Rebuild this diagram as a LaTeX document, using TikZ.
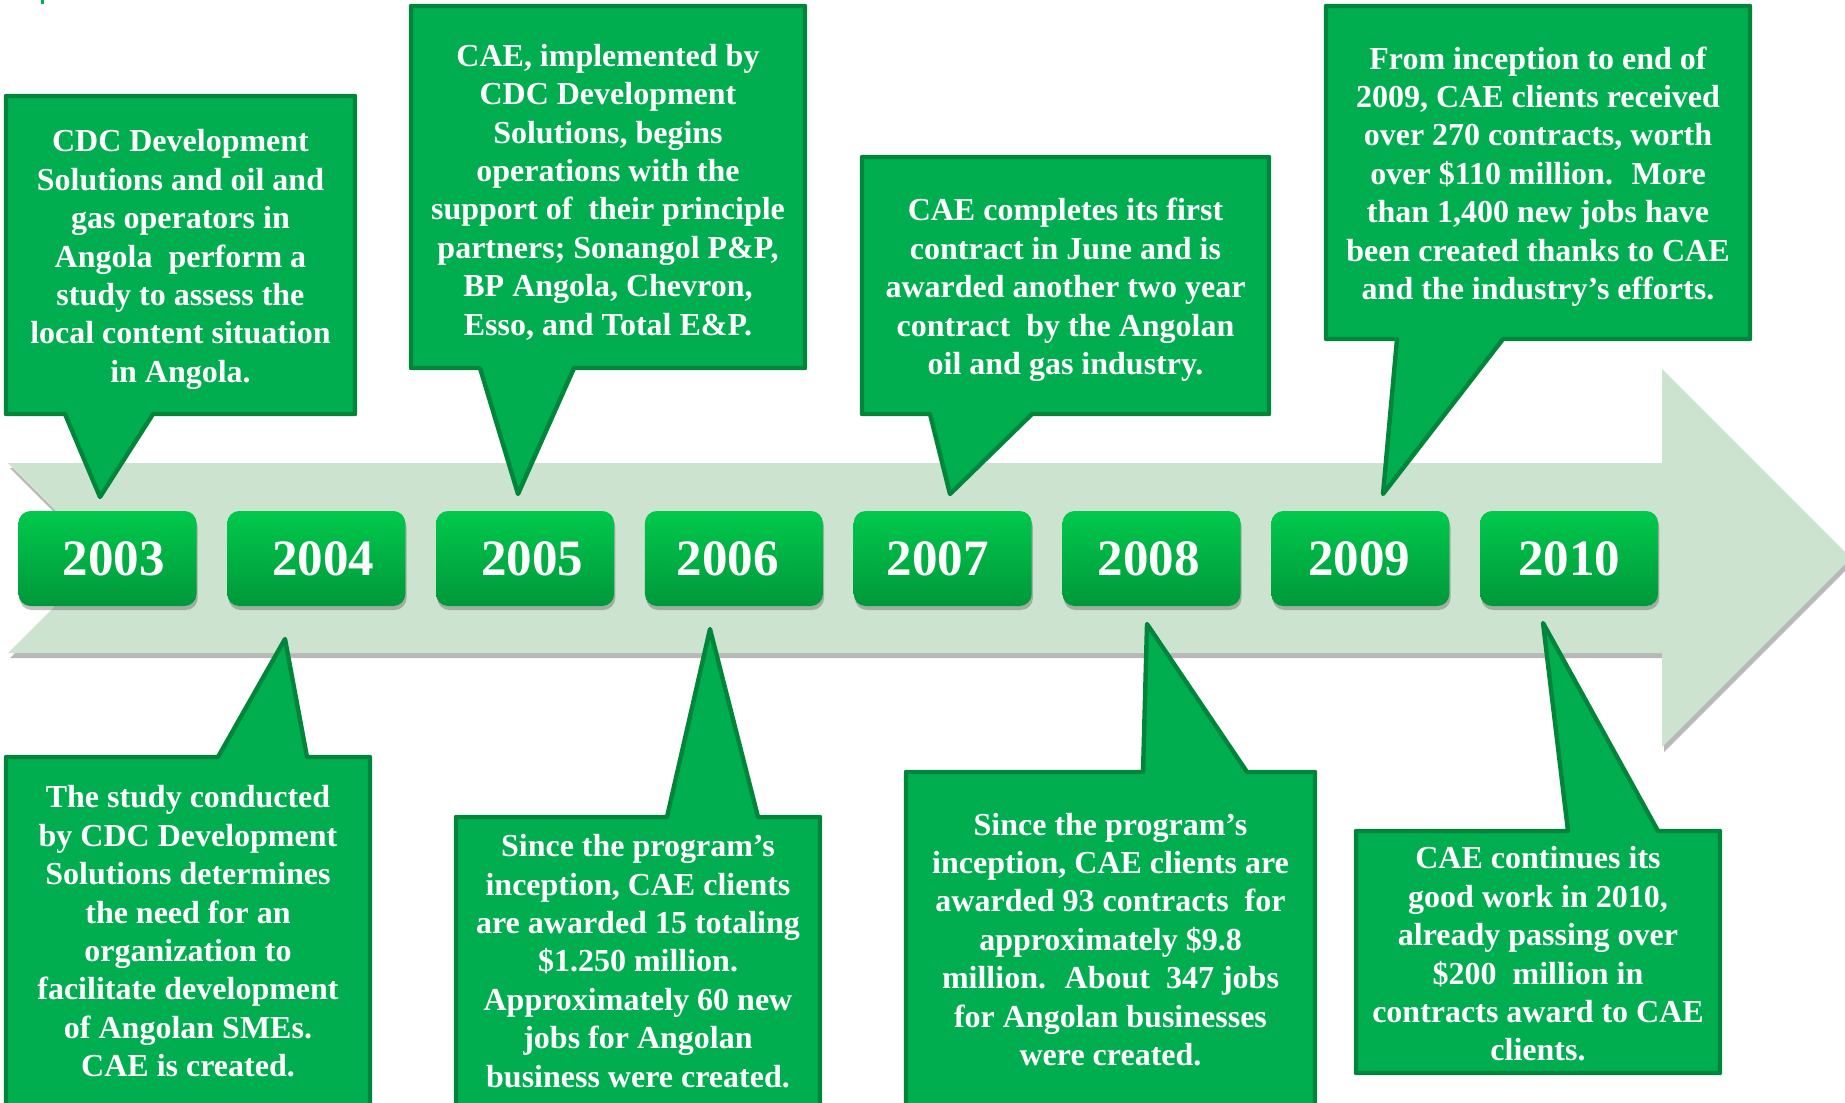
\documentclass[tikz,border=0pt]{standalone}
\usepackage{fontspec}
\setmainfont{Liberation Serif}
\usetikzlibrary{shadows}
\definecolor{bandc}{RGB}{204,228,207}
\definecolor{cfill}{RGB}{0,173,79}
\definecolor{cline}{RGB}{0,133,58}
\definecolor{ytop}{RGB}{0,201,76}
\definecolor{ybot}{RGB}{0,152,58}
\newcommand{\calfont}{\fontsize{16pt}{19.2pt}\selectfont\bfseries}
\newcommand{\yrfont}{\fontsize{25.5pt}{30pt}\selectfont\bfseries}
\tikzset{
  callout/.style={fill=cfill, draw=cline, line width=2.2pt, line join=round},
  ctext/.style={text=white, font=\calfont, align=center, inner sep=0pt},
  yearbox/.style={rounded corners=6pt, top color=ytop, bottom color=ybot, draw=none,
    minimum width=89pt, minimum height=47.5pt, inner sep=0pt,
    drop shadow={shadow xshift=0.6pt, shadow yshift=-2pt, opacity=0.35, fill=black!70}},
  yeartext/.style={text=white, font=\yrfont, inner sep=0pt},
}
\begin{document}
\begin{tikzpicture}[x=0.5pt,y=-0.5pt]
\useasboundingbox (0,0) rectangle (1845,1102);
\clip (0,0) rectangle (1845,1102);
% small mark top-left
\fill[cfill] (41,0) rectangle (44,4);
% band arrow with shadow
\fill[black, opacity=0.28, shift={(2,5)}] (8,463) -- (1662,463) -- (1662,369) -- (1851,558) -- (1662,747) -- (1662,653) -- (8,653) -- (103,558) -- cycle;
\fill[bandc] (8,463) -- (1662,463) -- (1662,369) -- (1851,558) -- (1662,747) -- (1662,653) -- (8,653) -- (103,558) -- cycle;

% ---------- callouts (top) ----------
% 2003
\coordinate (p2003) at (100,497);
\draw[callout] (6,96) -- (355,96) -- (355,414) -- (153,414) -- (p2003) -- (65,414) -- (6,414) -- cycle;
\node[ctext] (t2003) at (180.5,259.5) {CDC Development\\Solutions and oil and\\gas operators in\\Angola~ perform a\\study to assess the\\local content situation\\in Angola.};
% 2005
\coordinate (p2005) at (518,494);
\draw[callout] (411,6) -- (805,6) -- (805,368) -- (574,368) -- (p2005) -- (480,368) -- (411,368) -- cycle;
\node[ctext] (t2005) at (608,192) {CAE, implemented by\\CDC Development\\Solutions, begins\\operations with the\\support of~ their principle\\partners; Sonangol P\&P,\\BP Angola, Chevron,\\Esso, and Total E\&P.};
% 2007
\coordinate (p2007) at (950,494);
\draw[callout] (862,157) -- (1269,157) -- (1269,414) -- (1032,414) -- (p2007) -- (930,414) -- (862,414) -- cycle;
\node[ctext] (t2007) at (1065.5,290) {CAE completes its first\\contract in June and is\\awarded another two year\\contract~ by the Angolan\\oil and gas industry.};
% 2009
\coordinate (p2009) at (1383,494);
\draw[callout] (1326,6) -- (1750,6) -- (1750,339) -- (1503,339) -- (p2009) -- (1397,339) -- (1326,339) -- cycle;
\node[ctext] (t2009) at (1538,176.5) {From inception to end of\\2009, CAE clients received\\over 270 contracts, worth\\over \$110 million.~ More\\than 1,400 new jobs have\\been created thanks to CAE\\and the industry’s efforts.};

% ---------- callouts (bottom) ----------
% 2004
\coordinate (p2004) at (285,639);
\draw[callout] (6,757) -- (218,757) -- (p2004) -- (307,757) -- (370,757) -- (370,1112) -- (6,1112) -- cycle;
\node[ctext] (t2004) at (188,931.5) {The study conducted\\by CDC Development\\Solutions determines\\the need for an\\organization to\\facilitate development\\of Angolan SMEs.\\CAE is created.};
% 2006
\coordinate (p2006) at (710,629);
\draw[callout] (456,817) -- (667,817) -- (p2006) -- (758,817) -- (820,817) -- (820,1112) -- (456,1112) -- cycle;
\node[ctext] (t2006) at (638,961) {Since the program’s\\inception, CAE clients\\are awarded 15 totaling\\\$1.250 million.\\Approximately 60 new\\jobs for Angolan\\business were created.};
% 2008
\coordinate (p2008) at (1147,624);
\draw[callout] (906,772) -- (1143,772) -- (p2008) -- (1247,772) -- (1315,772) -- (1315,1112) -- (906,1112) -- cycle;
\node[ctext] (t2008) at (1110.5,939.5) {Since the program’s\\inception, CAE clients are\\awarded 93 contracts~ for\\approximately \$9.8\\million.~ About~ 347 jobs\\for Angolan businesses\\were created.};
% 2010
\coordinate (p2010) at (1543,623);
\draw[callout] (1356,831) -- (1568,831) -- (p2010) -- (1658,831) -- (1720,831) -- (1720,1073) -- (1356,1073) -- cycle;
\node[ctext] (t2010) at (1538,954) {CAE continues its\\good work in 2010,\\already passing over\\\$200~ million in\\contracts award to CAE\\clients.};

% ---------- year buttons ----------
\node[yearbox] (b2003) at (107.5,558.5) {};
\node[yearbox] (b2004) at (316.3,558.5) {};
\node[yearbox] (b2005) at (525.1,558.5) {};
\node[yearbox] (b2006) at (733.9,558.5) {};
\node[yearbox] (b2007) at (942.7,558.5) {};
\node[yearbox] (b2008) at (1151.5,558.5) {};
\node[yearbox] (b2009) at (1360.3,558.5) {};
\node[yearbox] (b2010) at (1569.1,558.5) {};
\node[yeartext] (y2003) at ([xshift=3pt]b2003.center) {2003};
\node[yeartext] (y2004) at ([xshift=3.5pt]b2004.center) {2004};
\node[yeartext] (y2005) at ([xshift=3.5pt]b2005.center) {2005};
\node[yeartext] (y2006) at ([xshift=-3pt]b2006.center) {2006};
\node[yeartext] (y2007) at ([xshift=-2.5pt]b2007.center) {2007};
\node[yeartext] (y2008) at ([xshift=-1.5pt]b2008.center) {2008};
\node[yeartext] (y2009) at ([xshift=-0.5pt]b2009.center) {2009};
\node[yeartext] (y2010) at (b2010.center) {2010};
\end{tikzpicture}
\end{document}
